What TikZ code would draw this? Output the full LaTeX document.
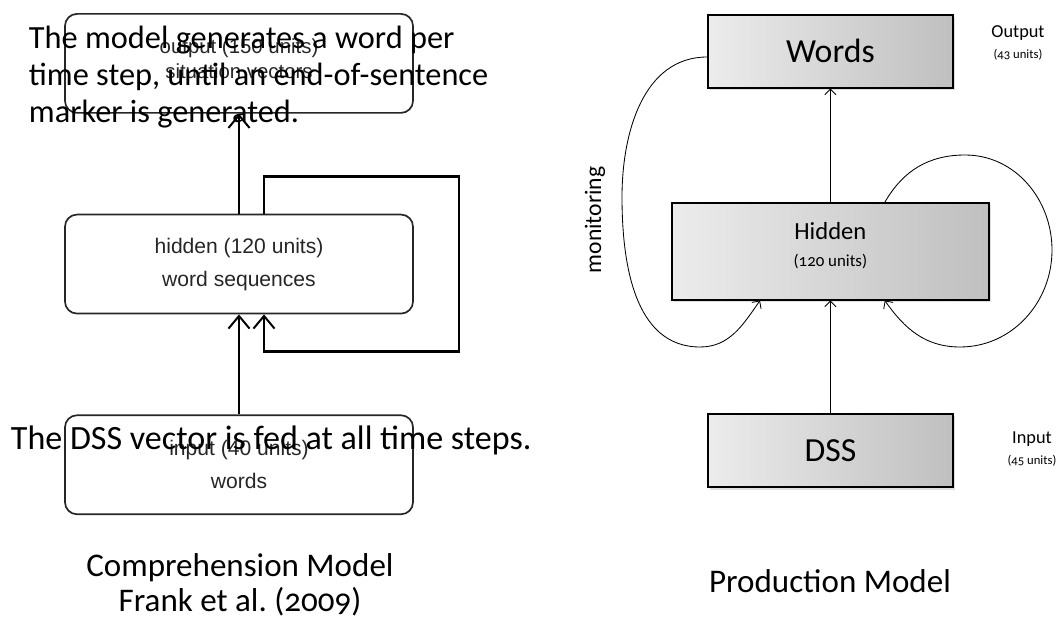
\documentclass[tikz,border=0pt]{standalone}
\usepackage{fontspec}
\setmainfont{Carlito}[Numbers=OldStyle]
\newfontfamily\arialfont{Liberation Sans}
\usetikzlibrary{positioning,arrows.meta,shadows}

\tikzset{
  % boxes of the comprehension net
  cmpbox/.style={draw=black!85, line width=1.2pt, rounded corners=0.3cm,
    minimum width=8.7cm, minimum height=2.475cm, align=center,
    font=\arialfont\fontsize{15}{23.5}\selectfont, text=black!85},
  cmparrow/.style={line width=1.8pt, -{Straight Barb[length=9pt,width=15pt,line width=1.4pt]}},
  % boxes of the production net
  prdbox/.style={draw, line width=0.9pt, left color=gray!15, right color=gray!50,
    drop shadow={opacity=0.25, shadow xshift=0.04cm, shadow yshift=-0.06cm},
    minimum width=6.125cm, minimum height=1.825cm, font=\fontsize{24}{28}\selectfont},
  prdarrow/.style={line width=0.6pt, -{Straight Barb[length=4pt,width=8pt]}},
  bigtext/.style={font=\fontsize{23}{26.3}\selectfont, align=left}
}

\begin{document}
\begin{tikzpicture}
  \useasboundingbox (0,0) rectangle (26.525,15.525);

  % comprehension model
  \node[cmpbox] (out) at (5.975,13.94) {};
  \node[cmpbox, below=2.5cm of out] (hid) {hidden (120 units)\\word sequences};
  \node[cmpbox, below=2.5cm of hid] (inp) {input (40 units)\\words};
  \node[align=center, font=\arialfont\fontsize{14.5}{18}\selectfont, text=black!85] (outtxt)
    at ([yshift=0.12cm]out) {output (150 units)\\situation vectors};
  \draw[cmparrow] (inp) -- (hid);
  \draw[cmparrow] (hid) -- (out);
  \draw[cmparrow] ([xshift=0.625cm]hid.north) -- ++(0,0.93)
    -| ([xshift=5.5cm,yshift=-0.93cm]hid.south) -| ([xshift=0.625cm]hid.south);

  \node[bigtext, anchor=west] (gen) at (0.6,13.6)
    {The model generates a word per\\time step, until an end-of-sentence\\marker is generated.};
  \node[bigtext, font=\fontsize{24.2}{26.3}\selectfont, anchor=west] (fed) at (0.15,4.525)
    {The DSS vector is fed at all time steps.};
  \node[align=center, font=\fontsize{23.5}{25}\selectfont] (cmpname) at (6.0,0.9)
    {Comprehension Model\\Frank et al.\ (2009)};

  % production model
  \node[prdbox] (wrd) at (20.76,14.24) {Words};
  \node[prdbox, minimum width=7.925cm, minimum height=2.425cm] (phid) at (20.76,9.24) {};
  \node[align=center, font=\fontsize{17.5}{21}\selectfont] (phidtxt) at ([yshift=0.15cm]phid)
    {Hidden\\[-2pt]{\fontsize{12}{14}\selectfont(120 units)}};
  \node[prdbox] (dss) at (20.76,4.26) {DSS};
  \draw[prdarrow] (dss) -- (phid);
  \draw[prdarrow] (phid) -- (wrd);

  % monitoring loop
  \coordinate (m1) at (15.55,10.6);
  \coordinate (m2) at (17.5,6.85);
  \draw[prdarrow] ([yshift=-0.14cm]wrd.west) to[out=180,in=90] (m1)
    to[out=-90,in=180] (m2) to[out=0,in=-125] ([xshift=-1.76cm]phid.south);
  \node[rotate=90, font=\fontsize{16.8}{20}\selectfont] (mon) at (14.875,10.025) {monitoring};

  % recurrent loop
  \coordinate (r1) at (24.125,11.65);
  \coordinate (r2) at (26.3,9.275);
  \coordinate (r3) at (24.0,6.85);
  \draw[prdarrow] ([xshift=1.36cm]phid.north) to[out=60,in=180] (r1)
    to[out=0,in=90] (r2) to[out=-90,in=0] (r3) to[out=180,in=-55] ([xshift=1.36cm]phid.south);

  \node[align=center, font=\fontsize{13}{15}\selectfont] (outlbl) at (25.45,14.45)
    {Output\\{\fontsize{9}{10}\selectfont(43 units)}};
  \node[align=center, font=\fontsize{13}{15}\selectfont] (inlbl) at (25.8,4.3)
    {Input\\{\fontsize{9}{10}\selectfont(45 units)}};
  \node[font=\fontsize{23.5}{25}\selectfont] (prdname) at (20.75,1.0) {Production Model};
\end{tikzpicture}
\end{document}
